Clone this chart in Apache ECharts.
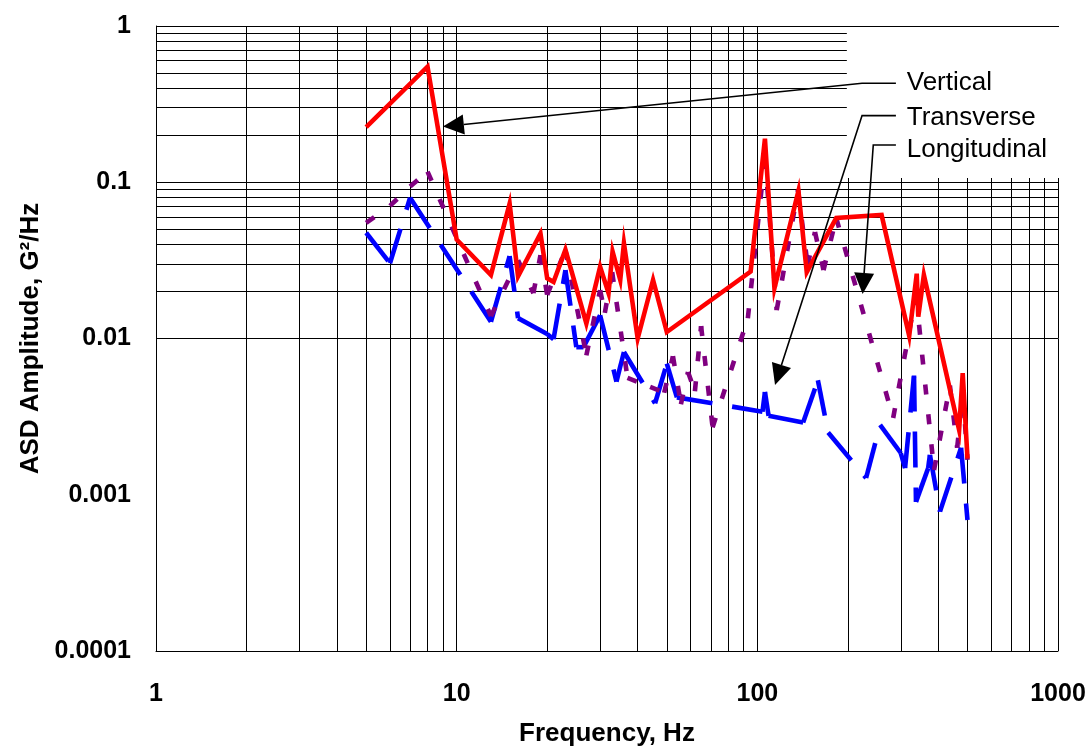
<!DOCTYPE html>
<html>
<head>
<meta charset="utf-8">
<script src="https://cdn.jsdelivr.net/npm/echarts@6/dist/echarts.min.js"></script>
<style>
  html, body { margin: 0; padding: 0; background: #ffffff; }
  #chart { width: 1090px; height: 749px; }
</style>
</head>
<body>
<div id="chart"></div>
<script>
// Acceleration spectral density per axis: [frequency (Hz), ASD (G^2/Hz)]
const vertical = [
  [5, 0.225], [8, 0.549], [10, 0.043], [13, 0.0255], [15, 0.073], [16, 0.025],
  [19, 0.047], [20, 0.0243], [21, 0.023], [23, 0.037], [27, 0.0125], [30, 0.0288],
  [32, 0.0195], [33, 0.036], [35, 0.0237], [36, 0.0407], [40, 0.0100], [45, 0.0237],
  [50, 0.011], [95, 0.0268], [106, 0.19], [114, 0.021], [137, 0.088], [146, 0.0266],
  [183, 0.059], [259, 0.0617], [320, 0.0104], [339, 0.026], [343, 0.0138], [358, 0.0255],
  [469, 0.0026], [482, 0.006], [500, 0.0017]
];
const transverse = [
  [5, 0.0475], [6, 0.0303], [7, 0.0796], [13, 0.0128], [15, 0.0337], [16, 0.0135],
  [20, 0.0107], [21, 0.0099], [23, 0.0274], [25, 0.0088], [26.4, 0.0088], [30, 0.0141],
  [34, 0.0053], [36, 0.0082], [45.7, 0.00385], [50, 0.0069], [54, 0.0042], [104, 0.0034],
  [106, 0.00455], [109, 0.0032], [142, 0.0029], [159, 0.0054], [172, 0.0025], [230, 0.00128],
  [256, 0.0028], [300, 0.00185], [310, 0.00148], [332, 0.0058], [337, 0.0009], [370, 0.00148],
  [375, 0.0018], [405, 0.00078], [476, 0.002], [500, 0.00069]
];
const longitudinal = [
  [5, 0.055], [6, 0.0705], [7, 0.094], [8, 0.117], [13, 0.0139], [16, 0.0317],
  [18, 0.0195], [19, 0.0342], [20, 0.019], [23, 0.0368], [27, 0.0078], [30, 0.0204],
  [31.1, 0.0146], [32.9, 0.0266], [37, 0.0056], [44, 0.0049], [49, 0.0045], [52.4, 0.0077],
  [55.7, 0.0038], [58.8, 0.0061], [62, 0.0046], [65, 0.012], [71, 0.0027], [93, 0.0135],
  [106, 0.145], [116, 0.0152], [136.5, 0.089], [147, 0.0295], [155.5, 0.048], [166, 0.0274],
  [183, 0.059], [283, 0.0031], [337, 0.019], [387, 0.00144], [437, 0.005], [462, 0.002],
  [483, 0.0044], [500, 0.00167]
];
const xTickLabels = ['1', '10', '100', '1000'];
const yTickLabels = ['0.0001', '0.001', '0.01', '0.1', '1'];
const seriesNames = ['Vertical', 'Transverse', 'Longitudinal'];

const FONT = "'Liberation Sans', Arial, sans-serif";

// Log-decade grid: every 1..9 multiple inside each decade
const xGrid = [];
for (let d = 1; d <= 100; d *= 10) for (let m = 1; m <= 9; m++) xGrid.push(m * d);
xGrid.push(1000);
const yGrid = [];
for (let d = 0.0001; d < 0.5; d *= 10) for (let m = 1; m <= 9; m++) yGrid.push(+(m * d).toPrecision(3));
yGrid.push(1);

// Draw a polyline as separate segments so each segment starts its own dash pattern
function toSegments(pts) {
  const out = [];
  for (let i = 0; i < pts.length - 1; i++) out.push([pts[i][0], pts[i][1], pts[i + 1][0], pts[i + 1][1]]);
  return out;
}
function dashedSeries(name, pts, color, dash) {
  return {
    name: name,
    type: 'custom',
    z: 6,
    clip: false,
    silent: true,
    encode: { x: [0, 2], y: [1, 3] },
    data: toSegments(pts),
    renderItem: function (params, api) {
      const a = api.coord([api.value(0), api.value(1)]);
      const b = api.coord([api.value(2), api.value(3)]);
      return {
        type: 'line',
        shape: { x1: a[0], y1: a[1], x2: b[0], y2: b[1] },
        style: { stroke: color, lineWidth: 4.6, lineDash: dash, lineCap: 'butt', fill: null }
      };
    }
  };
}

const gridLineStyle = { color: '#000000', width: 1, type: 'solid' };

const option = {
  animation: false,
  backgroundColor: '#ffffff',
  grid: { left: 156, right: 32, top: 26, bottom: 98, containLabel: false, outerBoundsMode: 'none' },
  xAxis: {
    type: 'log', logBase: 10, min: 1, max: 1000,
    name: 'Frequency, Hz', nameLocation: 'middle', nameGap: 70,
    nameTextStyle: { fontFamily: FONT, fontWeight: 'bold', fontSize: 26, color: '#000' },
    axisLine: { show: true, lineStyle: { color: '#000', width: 1 } },
    axisTick: { show: false },
    splitLine: { show: false },
    axisLabel: {
      margin: 31, fontFamily: FONT, fontWeight: 'bold', fontSize: 25, color: '#000',
      formatter: v => xTickLabels[Math.round(Math.log10(v))]
    }
  },
  yAxis: {
    type: 'log', logBase: 10, min: 0.0001, max: 1,
    name: 'ASD Amplitude, G\u00B2/Hz', nameLocation: 'middle', nameGap: 98, nameRotate: 90,
    nameTextStyle: { fontFamily: FONT, fontWeight: 'bold', fontSize: 26, color: '#000' },
    axisLine: { show: true, lineStyle: { color: '#000', width: 1 } },
    axisTick: { show: false },
    splitLine: { show: false },
    axisLabel: {
      margin: 25, fontFamily: FONT, fontWeight: 'bold', fontSize: 25, color: '#000',
      formatter: v => yTickLabels[Math.round(Math.log10(v)) + 4]
    }
  },
  series: [
    {
      name: 'grid',
      type: 'line',
      z: 1,
      data: [],
      silent: true,
      markLine: {
        z: 1,
        silent: true,
        symbol: ['none', 'none'],
        label: { show: false },
        lineStyle: gridLineStyle,
        emphasis: { disabled: true },
        animation: false,
        data: xGrid.map(v => ({ xAxis: v })).concat(yGrid.map(v => ({ yAxis: v })))
      }
    },
    {
      name: seriesNames[0],
      type: 'line',
      z: 7,
      data: vertical,
      symbol: 'none',
      silent: true,
      lineStyle: { color: '#ff0000', width: 4.6, join: 'miter' }
    },
    dashedSeries(seriesNames[1], transverse, '#0000ff', [36, 20]),
    dashedSeries(seriesNames[2], longitudinal, '#800080', [10, 20])
  ]
};

const chart = echarts.init(document.getElementById('chart'), null, { renderer: 'canvas' });
chart.setOption(option);

// Callout leaders: arrow tip on the curve, elbow, and the end of the short horizontal run
const callouts = [
  { text: seriesNames[0], tip: [9.0, 0.227], elbow: [223, 0.43], textShift: 0 },
  { text: seriesNames[1], tip: [114.5, 0.00504], elbow: [223, 0.267], textShift: 2 },
  { text: seriesNames[2], tip: [224, 0.0193], elbow: [243, 0.173], textShift: 5 }
];
const leaderEndHz = 289;
const textHz = 314;

const P = p => chart.convertToPixel({ xAxisIndex: 0, yAxisIndex: 0 }, p);
const graphics = [];

// Blank panel behind the callout labels
const boxTL = P([200, 1]);
const boxBR = P([1000, 0.1065]);
graphics.push({
  type: 'rect', z: 5, silent: true,
  shape: { x: boxTL[0] - 1, y: boxTL[1] + 1, width: boxBR[0] - boxTL[0] + 6, height: boxBR[1] - boxTL[1] - 1 },
  style: { fill: '#ffffff' }
});

const headLen = 21, headHalf = 10;
callouts.forEach(c => {
  const tip = P(c.tip);
  const elbow = P(c.elbow);
  const end = P([leaderEndHz, c.elbow[1]]);
  const tx = P([textHz, c.elbow[1]])[0];
  const dx = elbow[0] - tip[0], dy = elbow[1] - tip[1];
  const len = Math.hypot(dx, dy);
  const ux = dx / len, uy = dy / len;
  const bx = tip[0] + ux * headLen, by = tip[1] + uy * headLen;
  graphics.push({
    type: 'polyline', z: 10, silent: true,
    shape: { points: [[end[0], end[1]], [elbow[0], elbow[1]], [bx, by]] },
    style: { stroke: '#000', lineWidth: 1.6, fill: null }
  });
  graphics.push({
    type: 'polygon', z: 10, silent: true,
    shape: { points: [[tip[0], tip[1]], [bx - uy * headHalf, by + ux * headHalf], [bx + uy * headHalf, by - ux * headHalf]] },
    style: { fill: '#000' }
  });
  graphics.push({
    type: 'text', z: 10, silent: true,
    x: tx, y: end[1] + c.textShift,
    style: { text: c.text, font: '26px ' + FONT, fill: '#000', textAlign: 'left', textVerticalAlign: 'middle' }
  });
});

chart.setOption({ graphic: graphics });
</script>
</body>
</html>
